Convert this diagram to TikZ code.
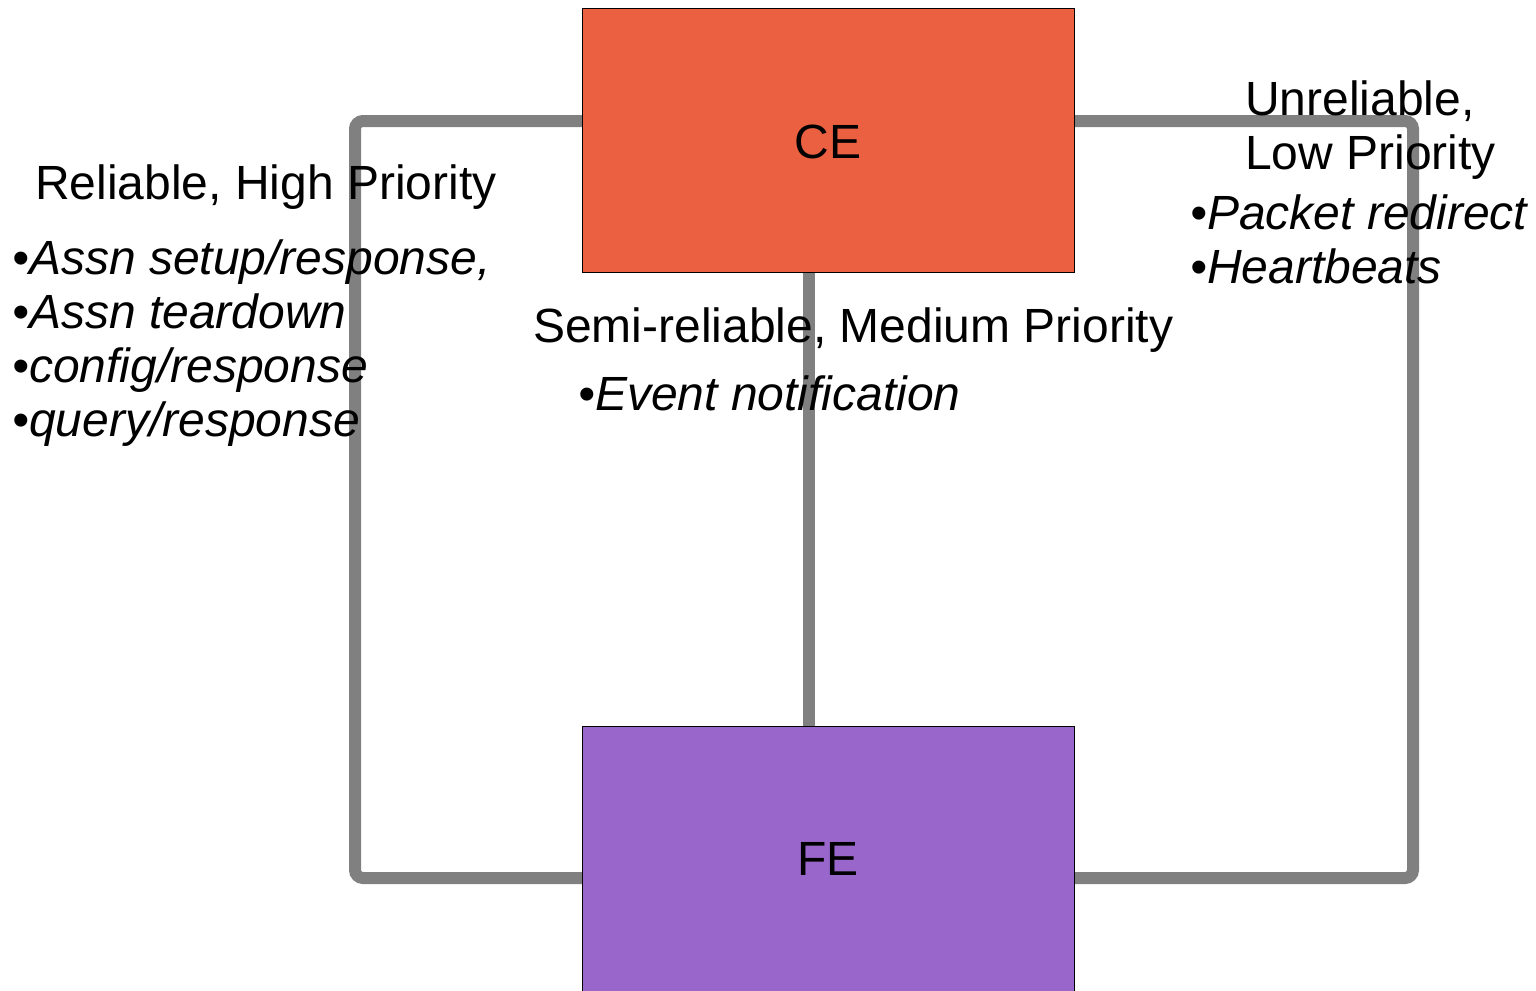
\documentclass[tikz,border=0pt]{standalone}
\usepackage{fontspec}
\setmainfont{Liberation Sans}
\definecolor{ceorange}{HTML}{EA6041}
\definecolor{fepurple}{HTML}{9966CB}
\definecolor{linegray}{HTML}{808080}
\begin{document}
\begin{tikzpicture}[x=0.75pt,y=-0.75pt,
  box/.style={draw=black,line width=0.6pt,inner sep=0pt},
  conn/.style={draw=linegray,line width=9pt,rounded corners=6pt},
  lbl/.style={anchor=base west,inner sep=0pt,font=\fontsize{36}{40}\selectfont},
  itl/.style={lbl,font=\fontsize{36}{40}\selectfont\itshape}]
\useasboundingbox (0,0) rectangle (1536,990);
% connectors
\coordinate (l1) at (355,121);
\coordinate (l2) at (355,878);
\coordinate (r1) at (1413,121);
\coordinate (r2) at (1413,878);
\draw[conn] (582,121) -- (l1) -- (l2) -- (582,878);
\draw[conn] (1074,121) -- (r1) -- (r2) -- (1074,878);
\draw[conn] (809,272) -- (809,726);
% boxes
\node[box,fill=ceorange,minimum width=492*0.75pt,minimum height=264*0.75pt,anchor=north west] (ce) at (582,8) {};
\node[box,fill=fepurple,minimum width=492*0.75pt,minimum height=280*0.75pt,anchor=north west] (fe) at (582,726) {};
\node[lbl,anchor=base] at (828,158) {CE};
\node[lbl,anchor=base] at (828,875) {FE};
% labels
\node[lbl] (t1) at (35,199) {Reliable, High Priority};
\node[itl] (b1) at (12,274) {•Assn setup/response,};
\node[itl] (b2) at (12,328) {•Assn teardown};
\node[itl] (b3) at (12,382) {•config/response};
\node[itl] (b4) at (12,436) {•query/response};
\node[lbl] (t2) at (533,342) {Semi-reliable, Medium Priority};
\node[itl] (b5) at (578,410) {•Event notification};
\node[lbl] (t3) at (1245,115) {Unreliable,};
\node[lbl] (t4) at (1245,169) {Low Priority};
\node[itl] (b6) at (1190,229) {•Packet redirect};
\node[itl] (b7) at (1190,283) {•Heartbeats};
\end{tikzpicture}
\end{document}
